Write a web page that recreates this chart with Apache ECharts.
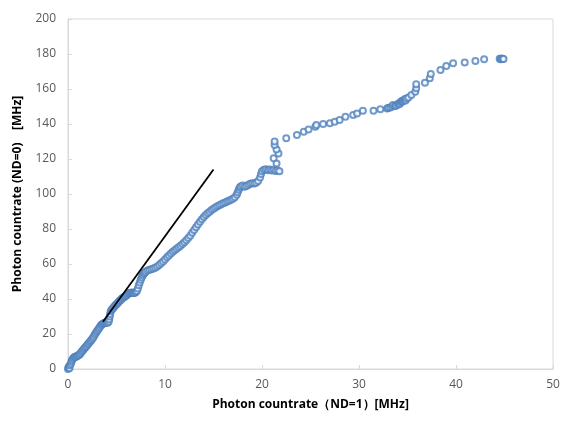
<!DOCTYPE html>
<html>
<head>
<meta charset="utf-8">
<script src="https://cdn.jsdelivr.net/npm/echarts@6/dist/echarts.min.js"></script>
<style>html,body{margin:0;padding:0;background:#fff;}#c{width:563px;height:421px;}</style>
</head>
<body>
<div id="c"></div>
<script>
const xTicks = [0, 10, 20, 30, 40, 50];
const yTicks = [0, 20, 40, 60, 80, 100, 120, 140, 160, 180, 200];
const xName = 'Photon countrate（ND=1）[MHz]';
const yName = 'Photon countrate (ND=0)    [MHz]';

// measured points (dense part)
const densePoints = [
[0,0],[0.05,0.8],[0.1,1.5],[0.15,0.5],[0.2,2.2],[0.3,3],[0.35,4.2],[0.4,5],[0.5,5.8],[0.6,6.5],[0.7,7],[0.8,6.8],[0.9,7.3],[1.0,7.6],[1.1,8],[1.2,8.3],[1.3,9],[1.4,9.8],[1.5,10.5],[1.6,11.2],[1.7,11.8],[1.8,12.4],[1.9,13],[2.0,13.8],[2.1,14.5],[2.2,15.2],[2.3,15.9],[2.4,16.5],[2.5,17.3],[2.6,18],[2.7,19],[2.8,20],[2.9,20.8],[3.0,21.7],[3.1,22.5],[3.2,23.3],[3.3,24.2],[3.4,25],[3.5,25.4],[3.6,25.8],[3.7,26.2],[3.8,26.5],[3.9,26.3],[4.0,26.8],[4.1,26.5],[4.2,27.2],[4.25,28.5],[4.3,30],[4.35,31.5],[4.4,33],[4.5,33.8],[4.6,34.5],[4.7,35.2],[4.8,35.8],[4.9,36.4],[5.0,37],[5.1,37.6],[5.2,38.2],[5.3,38.8],[5.4,39.3],[5.5,39.9],[5.6,40.4],[5.7,40.8],[5.8,41.2],[5.9,41.6],[6.0,42],[6.1,42.5],[6.2,43],[6.3,43.3],[6.4,43.5],[6.5,43.6],[6.6,43.7],[6.7,43.5],[6.8,43.4],[6.9,43.6],[7.0,44],[7.1,44.6],[7.2,46],[7.3,47.8],[7.4,49.5],[7.5,51],[7.6,52.3],[7.7,53.4],[7.8,54.3],[7.9,55],[8.0,55.6],[8.2,56.3],[8.4,56.7],[8.6,57],[8.8,57.4],[9.0,57.9],[9.2,58.6],[9.4,59.4],[9.6,60.4],[9.8,61.5],[10.0,62.6],[10.2,63.8],[10.4,64.9],[10.6,66],[10.8,67],[11.0,67.8],[11.2,68.7],[11.4,69.6],[11.6,70.5],[11.8,71.5],[12.0,72.5],[12.2,73.6],[12.4,74.8],[12.6,76.2],[12.8,77.8],[13.0,79.4],[13.2,81],[13.4,82.6],[13.6,84.2],[13.8,85.6],[14.0,86.9],[14.2,88],[14.4,89],[14.6,89.9],[14.8,90.8],[15.0,91.6],[15.2,92.3],[15.4,93],[15.6,93.6],[15.8,94.2],[16.0,94.7],[16.2,95.2],[16.4,95.7],[16.6,96.2],[16.8,96.7],[17.0,97.3],[17.2,98.2],[17.4,99.6],[17.5,101],[17.6,102.5],[17.7,103.6],[17.8,104.3],[18.0,104.8],[18.2,104.2],[18.4,104.6],[18.6,105.3],[18.8,105.8],[19.0,106.2],[19.2,106],[19.4,106.5],[19.6,107.5],[19.8,109.5],[19.9,111.5],[20.0,113],[20.2,113.8],[20.4,114.2],[20.6,113.6],[20.8,114],[21.0,113.5],[21.2,113.8],[21.4,113.2],[21.6,113.4],[21.8,113]
];
// measured points (sparse part)
const sparsePoints = [
[21.5,117.5],[21.2,120.4],[21.7,123.2],[21.5,125.5],[21.3,128],[21.3,130],[22.5,131.8],[23.6,133.7],[24.3,135.6],[24.8,136.9],[25.5,138.5],[25.6,139.4],[26.3,140],[27.0,140.4],[27.5,141.3],[28.0,142.3],[28.6,144.2],[29.4,145.1],[29.8,146],[30.4,147.6],[31.5,147.6],[32.2,148.4],[32.9,148.9],[33.0,149.2],[33.2,149.5],[33.4,149.8],[33.5,150.9],[33.7,150.3],[33.8,150.5],[34.0,151],[34.1,151.8],[34.2,151.5],[34.3,152.5],[34.4,153.1],[34.5,152.8],[34.6,153.5],[34.7,154.1],[34.8,153.4],[34.9,154.6],[35.1,155.2],[35.4,156.6],[35.8,158.5],[35.9,160.4],[35.9,162.7],[36.8,163.6],[37.3,166.1],[37.4,168.6],[38.4,170.9],[39.0,173.1],[39.7,174.7],[40.9,175.2],[42.0,176],[42.9,177],[44.5,177.3],[44.6,177.0],[44.7,177.4],[44.8,177.2],[44.9,177.1]
];
// reference straight line endpoints
const linePoints = [[3.6, 27], [15, 114]];

const chart = echarts.init(document.getElementById('c'), null, {renderer: 'canvas'});
const font = 'Open Sans, Liberation Sans, sans-serif';
chart.setOption({
  animation: false,
  backgroundColor: '#fff',
  grid: {left: 68, right: 10, top: 19, bottom: 52, show: true, borderColor: '#d9d9d9', borderWidth: 1},
  xAxis: {
    type: 'value', min: xTicks[0], max: xTicks[xTicks.length-1], interval: 10,
    name: xName, nameLocation: 'middle', nameGap: 30,
    nameTextStyle: {fontFamily: font, fontSize: 12, fontWeight: 'bold', color: '#000'},
    axisLine: {show: true, lineStyle: {color: '#d9d9d9', width: 1}},
    axisTick: {show: true, inside: true, length: 4, lineStyle: {color: '#d9d9d9'}},
    axisLabel: {fontFamily: font, fontSize: 12, color: '#595959', margin: 10},
    splitLine: {show: false}
  },
  yAxis: {
    type: 'value', min: yTicks[0], max: yTicks[yTicks.length-1], interval: 20,
    name: yName, nameLocation: 'middle', nameGap: 44,
    nameTextStyle: {fontFamily: font, fontSize: 12, fontWeight: 'bold', color: '#000'},
    axisLine: {show: true, lineStyle: {color: '#d9d9d9', width: 1}},
    axisTick: {show: true, inside: true, length: 4, lineStyle: {color: '#d9d9d9'}},
    axisLabel: {fontFamily: font, fontSize: 12, color: '#595959', margin: 12},
    splitLine: {show: false}
  },
  series: [
    {type: 'scatter', data: densePoints.concat(sparsePoints), symbol: 'emptyCircle', symbolSize: 6,
     itemStyle: {color: '#4f81bd', borderColor: '#4f81bd', borderWidth: 1.3, opacity: 0.8}},
    {type: 'line', data: linePoints, showSymbol: false, symbol: 'none',
     lineStyle: {color: '#000', width: 1.8}}
  ]
});
</script>
</body>
</html>
